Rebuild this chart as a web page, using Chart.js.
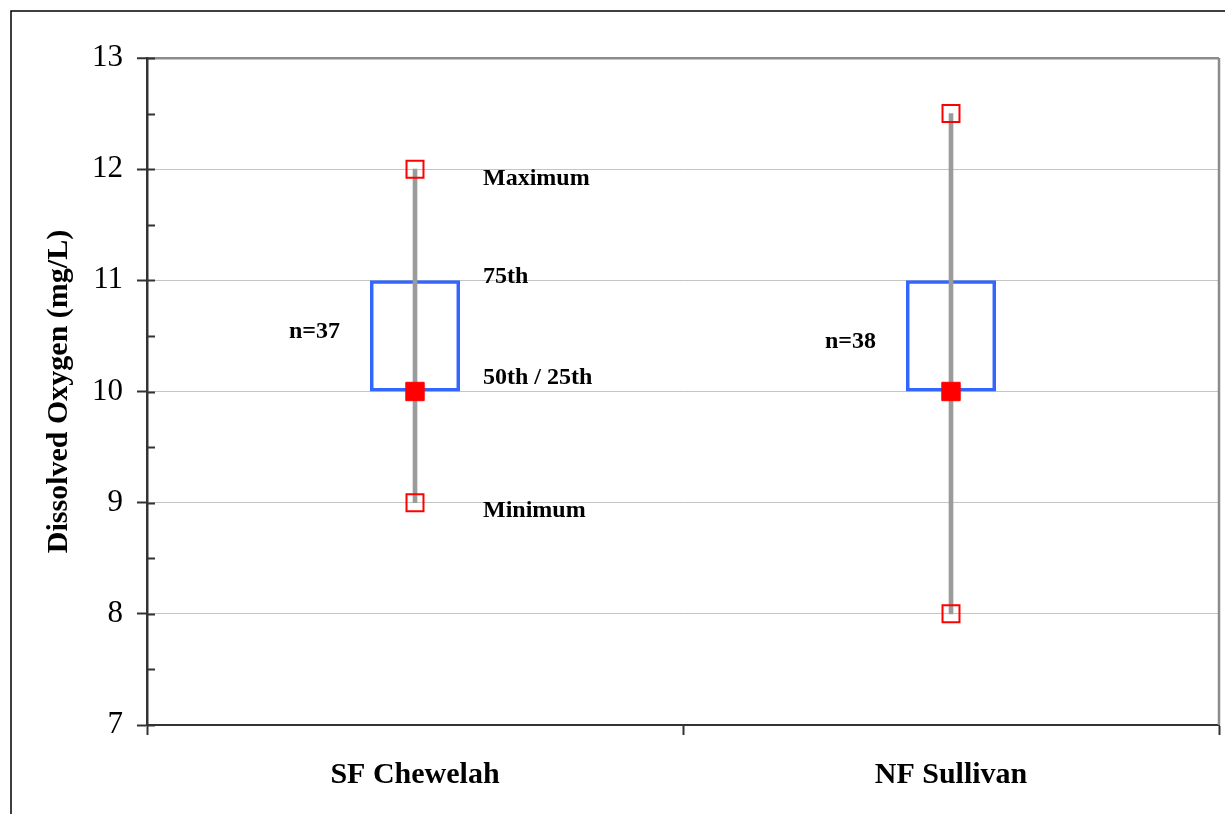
<!DOCTYPE html>
<html>
<head>
<meta charset="utf-8">
<script src="https://cdn.jsdelivr.net/npm/chart.js@4.4.1/dist/chart.umd.min.js"></script>
<style>
  html, body { margin: 0; padding: 0; background: #fff; overflow: hidden; }
  #wrap { position: relative; width: 1225px; height: 814px; overflow: hidden; }
</style>
</head>
<body>
<div id="wrap"><canvas id="c" width="1233" height="814"></canvas></div>
<script>
// Dissolved oxygen summary statistics per station
const categories = ['SF Chewelah', 'NF Sullivan'];
const minimum = [9, 8];
const q25 = [10, 10];
const median = [10, 10];
const q75 = [11, 11];
const maximum = [12, 12.5];
const counts = [37, 38];
const statLabels = ['Maximum', '75th', '50th / 25th', 'Minimum'];
const yTicks = [7, 8, 9, 10, 11, 12, 13];
const yMinorTicks = [7.5, 8.5, 9.5, 10.5, 11.5, 12.5];

const serif = '"Liberation Serif", "Times New Roman", serif';

const boxData = categories.map((_, i) => [q25[i], q75[i]]);
const whiskerData = categories.map((_, i) => [minimum[i], maximum[i]]);

// Frame, plot border, inward minor ticks and the text annotations
const decorations = {
  id: 'decorations',
  beforeDraw(chart) {
    const ctx = chart.ctx;
    ctx.save();
    ctx.strokeStyle = '#000';
    ctx.lineWidth = 1.5;
    ctx.beginPath();
    ctx.moveTo(11, chart.height);
    ctx.lineTo(11, 11);
    ctx.lineTo(chart.width, 11);
    ctx.stroke();
    ctx.restore();
  },
  afterDatasetsDraw(chart) {
    const ctx = chart.ctx;
    const area = chart.chartArea;
    const y = chart.scales.y;
    const x = chart.scales.x;
    ctx.save();
    // right border of the plot
    ctx.strokeStyle = '#8c8c8c';
    ctx.lineWidth = 2.5;
    ctx.beginPath();
    ctx.moveTo(area.right, area.top);
    ctx.lineTo(area.right, area.bottom);
    ctx.stroke();
    // inward tick marks on the value axis
    ctx.strokeStyle = '#333';
    ctx.lineWidth = 2;
    ctx.beginPath();
    yTicks.concat(yMinorTicks).forEach(v => {
      const py = Math.round(y.getPixelForValue(v)) + 0.5;
      ctx.moveTo(area.left, py);
      ctx.lineTo(area.left + 8, py);
    });
    ctx.stroke();

    // annotations
    ctx.fillStyle = '#000';
    ctx.font = 'bold 24px ' + serif;
    ctx.textBaseline = 'alphabetic';
    ctx.textAlign = 'left';
    const cx0 = x.getPixelForValue(0);
    const lx = cx0 + 68;
    const statY = [
      y.getPixelForValue(maximum[0]) + 16,
      y.getPixelForValue(q75[0]) + 3,
      y.getPixelForValue(q25[0]) - 8,
      y.getPixelForValue(minimum[0]) + 14
    ];
    statLabels.forEach((t, i) => ctx.fillText(t, lx, statY[i]));

    ctx.textAlign = 'right';
    const nShift = [2, 12];
    categories.forEach((_, i) => {
      const cx = x.getPixelForValue(i);
      const mid = (y.getPixelForValue(q25[i]) + y.getPixelForValue(q75[i])) / 2;
      ctx.fillText('n=' + counts[i], cx - 75, mid + nShift[i]);
    });
    ctx.restore();
  }
};

new Chart(document.getElementById('c'), {
  type: 'bar',
  data: {
    labels: categories,
    datasets: [
      {
        type: 'line',
        label: 'Median',
        data: median,
        showLine: false,
        pointStyle: 'rect',
        pointRadius: 13,
        pointBackgroundColor: '#ff0000',
        pointBorderColor: '#ff0000',
        pointBorderWidth: 1,
        order: 0
      },
      {
        type: 'line',
        label: 'Maximum',
        data: maximum,
        showLine: false,
        pointStyle: 'rect',
        pointRadius: 12,
        pointBackgroundColor: 'rgba(255,255,255,0)',
        pointBorderColor: '#ff0000',
        pointBorderWidth: 2,
        order: 0
      },
      {
        type: 'line',
        label: 'Minimum',
        data: minimum,
        showLine: false,
        pointStyle: 'rect',
        pointRadius: 12,
        pointBackgroundColor: 'rgba(255,255,255,0)',
        pointBorderColor: '#ff0000',
        pointBorderWidth: 2,
        order: 0
      },
      {
        label: 'Range',
        data: whiskerData,
        grouped: false,
        barThickness: 4,
        backgroundColor: '#9b9b9b',
        borderWidth: 0,
        order: 1
      },
      {
        label: 'Quartiles',
        data: boxData,
        grouped: false,
        barPercentage: 0.168,
        categoryPercentage: 1,
        backgroundColor: 'rgba(255,255,255,0)',
        borderColor: '#3366ff',
        borderWidth: 3.5,
        borderSkipped: false,
        order: 2
      }
    ]
  },
  options: {
    responsive: false,
    animation: false,
    events: [],
    layout: { padding: { top: 58, right: 6, left: 0, bottom: 0 } },
    plugins: {
      legend: { display: false },
      tooltip: { enabled: false }
    },
    scales: {
      x: {
        offset: true,
        grid: {
          offset: true,
          drawOnChartArea: false,
          drawTicks: true,
          tickLength: 10,
          tickColor: '#333',
          tickWidth: 2
        },
        border: { color: '#333', width: 2 },
        ticks: {
          color: '#000',
          padding: 22,
          font: { family: serif, size: 30, weight: 'bold' }
        },
        afterFit(scale) { scale.height = 89; }
      },
      y: {
        min: 7,
        max: 13,
        afterBuildTicks(scale) { scale.ticks = yTicks.map(v => ({ value: v })); },
        grid: {
          color: ctx => {
            const v = ctx.tick && ctx.tick.value;
            if (v === 13) return '#8c8c8c';
            if (v === 7) return 'rgba(0,0,0,0)';
            return '#c4c4c4';
          },
          lineWidth: ctx => (ctx.tick && ctx.tick.value === 13) ? 2.5 : 1,
          drawTicks: true,
          tickLength: 10,
          tickColor: '#333',
          tickWidth: 2
        },
        border: { color: '#333', width: 2.5 },
        ticks: {
          color: '#000',
          padding: 14,
          font: { family: serif, size: 31 }
        },
        title: {
          display: true,
          text: 'Dissolved Oxygen (mg/L)',
          color: '#000',
          font: { family: serif, size: 30, weight: 'bold' },
          padding: { top: 41, bottom: 0 }
        },
        afterFit(scale) { scale.width = 147; }
      }
    }
  },
  plugins: [decorations]
});
</script>
</body>
</html>
